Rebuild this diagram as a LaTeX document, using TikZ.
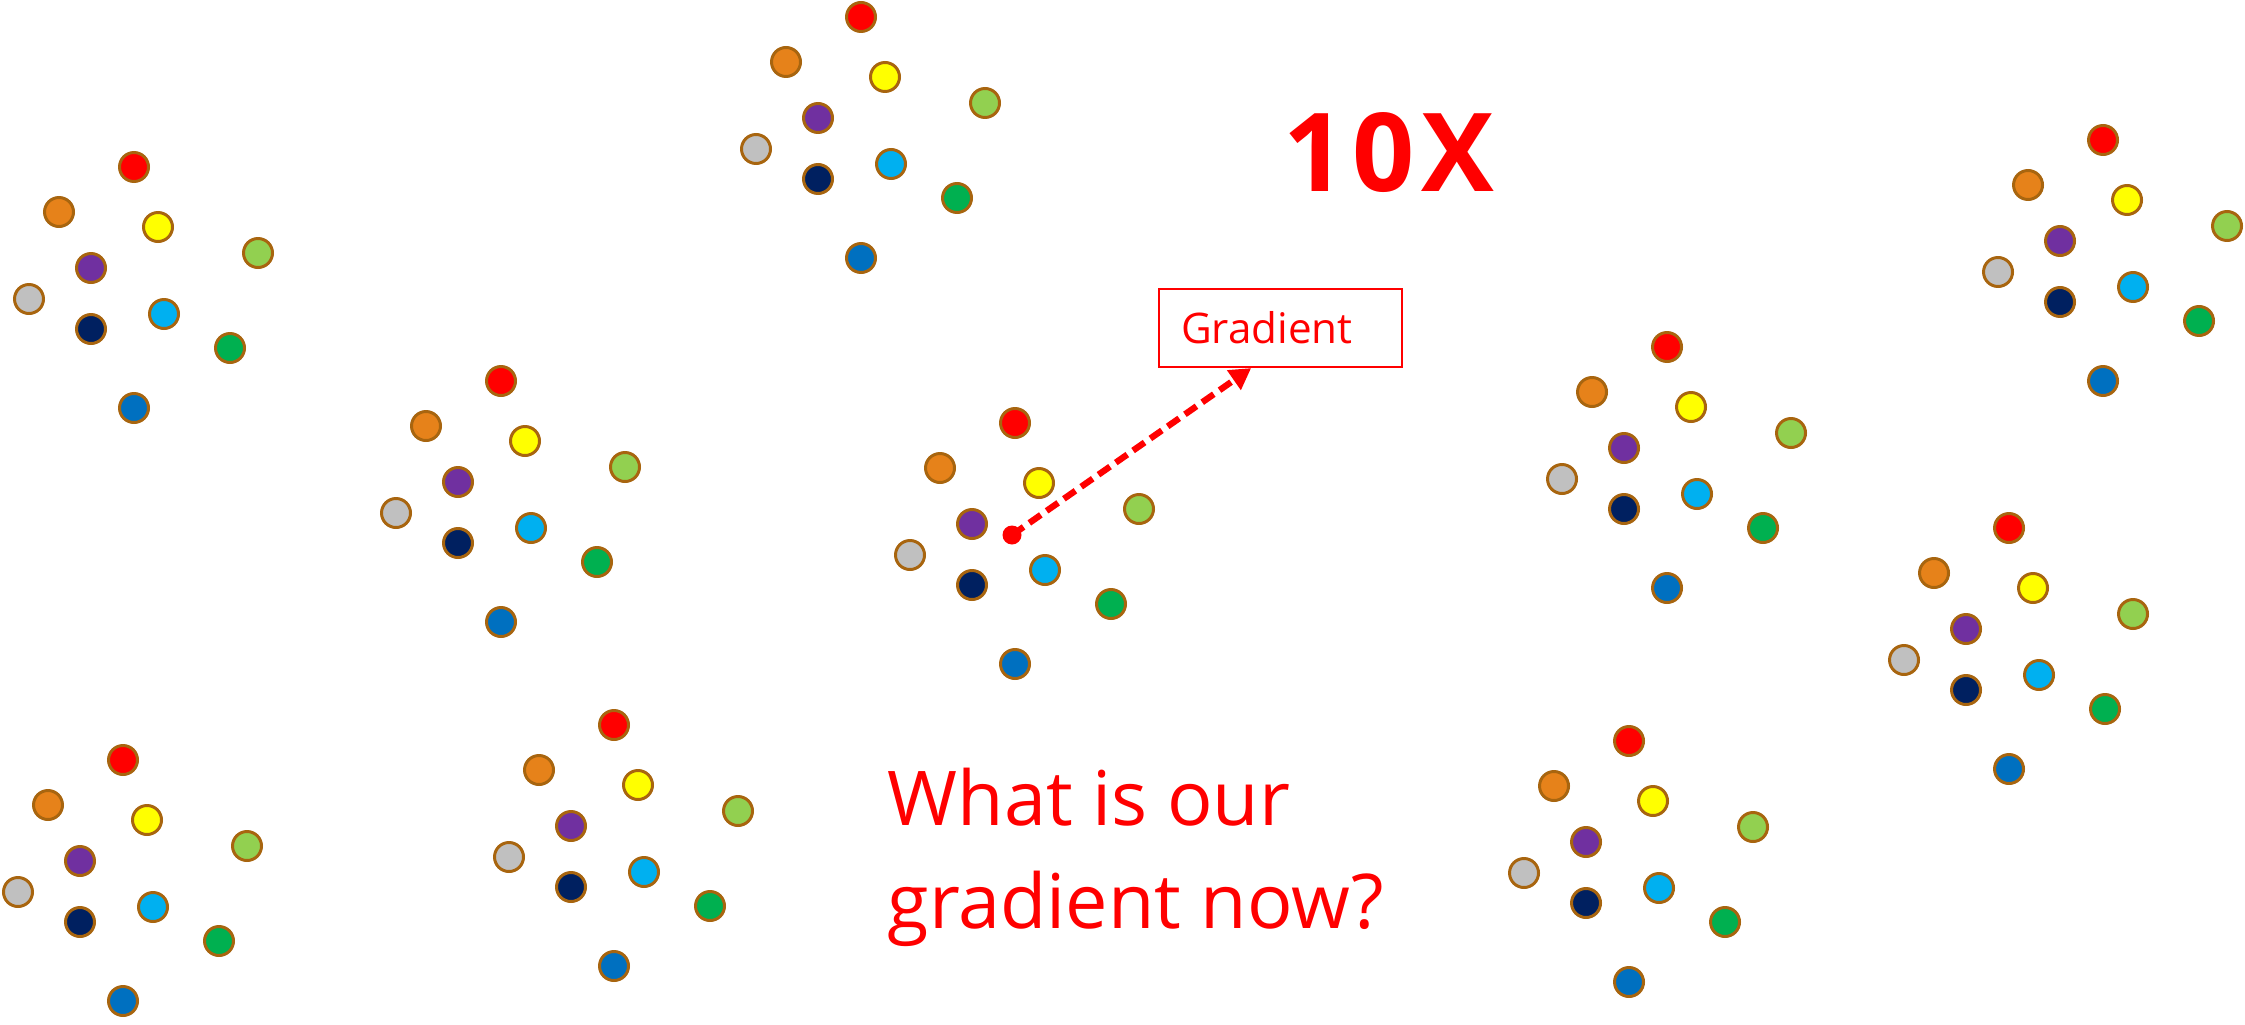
\documentclass[tikz,border=0pt]{standalone}
\usepackage{fontspec}
\newfontfamily\handfont{Open Sans}
\newfontfamily\handwide[LetterSpace=6]{Open Sans}
\usetikzlibrary{arrows.meta,calc}

\definecolor{dotrim}{HTML}{A8650F}
\definecolor{dotred}{HTML}{FF0000}
\definecolor{dotorange}{HTML}{E6821A}
\definecolor{dotyellow}{HTML}{FFFF00}
\definecolor{dotlime}{HTML}{92D050}
\definecolor{dotpurple}{HTML}{7030A0}
\definecolor{dotgray}{HTML}{C0C0C0}
\definecolor{dotnavy}{HTML}{002060}
\definecolor{dotcyan}{HTML}{00B0F0}
\definecolor{dotgreen}{HTML}{00B050}
\definecolor{dotblue}{HTML}{0070C0}

\begin{document}
\begin{tikzpicture}[x=0.1mm, y=-0.1mm, >={Triangle[length=6pt, width=6.5pt]},
    dot/.style={circle, draw=dotrim, line width=0.85pt, minimum size=2.9mm, inner sep=0pt},
    hand/.style={text=red, inner sep=0pt}]

    \useasboundingbox (0,0) rectangle (2245,1024);

    % ============================================================
    % CLUSTERS OF POINTS (same layout, ten copies)
    % ============================================================
    \foreach \cx/\cy [count=\k] in {134/167, 861/17, 501/381, 1015/423, 1667/347,
                                    2103/140, 2009/528, 123/760, 614/725, 1629/741} {
        \foreach \dx/\dy/\col in {0/0/dotred, -75/45/dotorange, 24/60/dotyellow,
                                  124/86/dotlime, -43/101/dotpurple, -105/132/dotgray,
                                  -43/162/dotnavy, 30/147/dotcyan, 96/181/dotgreen,
                                  0/241/dotblue} {
            \node[dot, fill=\col] (c\k-\col) at (\cx+\dx, \cy+\dy) {};
        }
    }

    % ============================================================
    % GRADIENT OF THE CENTRE CLUSTER
    % ============================================================
    \node[circle, fill=red, inner sep=0pt, minimum size=1.9mm] (grad) at (1012,535) {};

    \node[hand, draw=red, line width=0.6pt, anchor=north west,
          minimum height=7.8mm, text width=19.9mm, inner xsep=2.2mm, align=left,
          font=\handfont\fontsize{12}{14}\selectfont]
        (gradbox) at (1158,288) {Gradient};

    \draw[->, red, line width=1.8pt, dash pattern=on 4pt off 2pt]
        (grad.center) -- ($(gradbox.south west)!0.38!(gradbox.south east)$);

    % ============================================================
    % HANDWRITTEN NOTES
    % ============================================================
    \node[hand, anchor=base west, font=\handwide\bfseries\fontsize{31}{35}\selectfont]
        (tenx) at (1283,192) {10X};

    \node[hand, anchor=base west, font=\handfont\fontsize{21.5}{29}\selectfont]
        (ask1) at (887,825) {What is our};
    \node[hand, anchor=base west, font=\handfont\fontsize{21.5}{29}\selectfont]
        (ask2) at ($(ask1.base west)+(0,103)$) {gradient now?};

\end{tikzpicture}
\end{document}
